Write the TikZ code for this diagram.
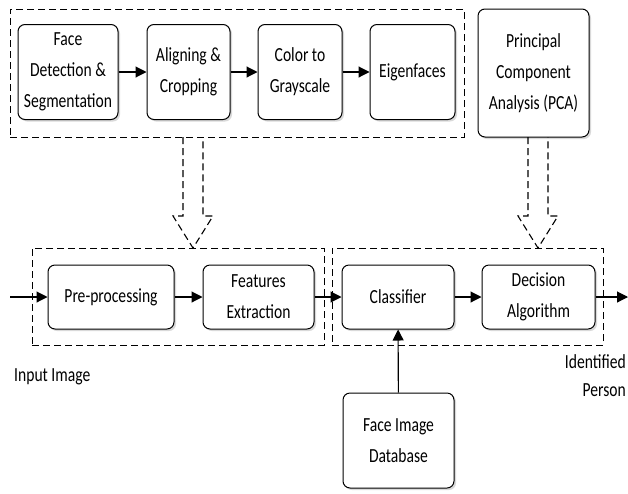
\documentclass[tikz,border=0pt]{standalone}
\usepackage{fontspec}
\setmainfont{Carlito}[FakeStretch=0.78]
\usetikzlibrary{arrows.meta,shadows}

\begin{document}
\begin{tikzpicture}[x=1pt, y=-1pt, >={Triangle[length=11pt,width=11pt]},
  block/.style={draw, line width=1pt, rounded corners=7pt, fill=white, align=center,
    drop shadow={shadow xshift=2pt, shadow yshift=-2pt, opacity=0.3},
    font=\fontsize{20}{31}\selectfont, inner sep=0pt},
  group/.style={draw, line width=1pt, dash pattern=on 7pt off 4pt, inner sep=0pt},
  flow/.style={->, line width=1.1pt},
  hollow/.style={line width=1.1pt, dash pattern=on 7pt off 4pt, line join=miter},
  caption/.style={font=\fontsize{20}{28}\selectfont, inner sep=0pt}]
  \useasboundingbox (0,0) rectangle (628,493);

  % Dashed groups
  \node[group, minimum width=454, minimum height=128] (train) at (237,73) {};
  \node[group, minimum width=292, minimum height=97] (extract) at (178,296.5) {};
  \node[group, minimum width=271, minimum height=97] (recog) at (467.5,296.5) {};

  % Training chain
  \node[block, minimum width=100, minimum height=95] (face) at (68,72) {Face\\Detection \&\\Segmentation};
  \node[block, minimum width=83, minimum height=95] (align) at (188.5,72) {Aligning \&\\Cropping};
  \node[block, minimum width=84, minimum height=95] (gray) at (300,72) {Color to\\Grayscale};
  \node[block, minimum width=85, minimum height=95] (eigen) at (412.5,72) {Eigenfaces};
  \node[block, minimum width=111, minimum height=128] (pca) at (533.5,73) {Principal\\Component\\Analysis (PCA)};

  % Recognition chain
  \node[block, minimum width=126, minimum height=64] (pre) at (111,297) {Pre-processing};
  \node[block, minimum width=111, minimum height=64] (feat) at (258.5,297) {Features\\Extraction};
  \node[block, minimum width=112, minimum height=64] (classifier) at (398,297) {Classifier};
  \node[block, minimum width=113, minimum height=64] (decision) at (538.5,297) {Decision\\Algorithm};
  \node[block, minimum width=111, minimum height=95] (db) at (398.5,440.5) {Face Image\\Database};

  % Labels
  \node[caption, anchor=west] (input) at (14,377) {Input Image};
  \node[caption, anchor=east, align=right] (person) at (626,376) {Identified\\Person};

  % Hollow dashed arrows
  \draw[hollow] (183,137) -- (183,216) -- (173,216) -- (193,248) -- (213,216) -- (203,216) -- (203,137);
  \draw[hollow] (528,137) -- (528,216) -- (518,216) -- (538,248) -- (558,216) -- (548,216) -- (548,137);

  % Connectors
  \coordinate (in) at (10,297);
  \coordinate (out) at (628,297);
  \draw[flow] (face) -- (align);
  \draw[flow] (align) -- (gray);
  \draw[flow] (gray) -- (eigen);
  \draw[flow] (in) -- (pre);
  \draw[flow] (pre) -- (feat);
  \draw[flow] (feat) -- (classifier);
  \draw[flow] (classifier) -- (decision);
  \draw[flow] (decision) -- (out);
  \draw[flow] (db) -- (classifier);
\end{tikzpicture}
\end{document}
